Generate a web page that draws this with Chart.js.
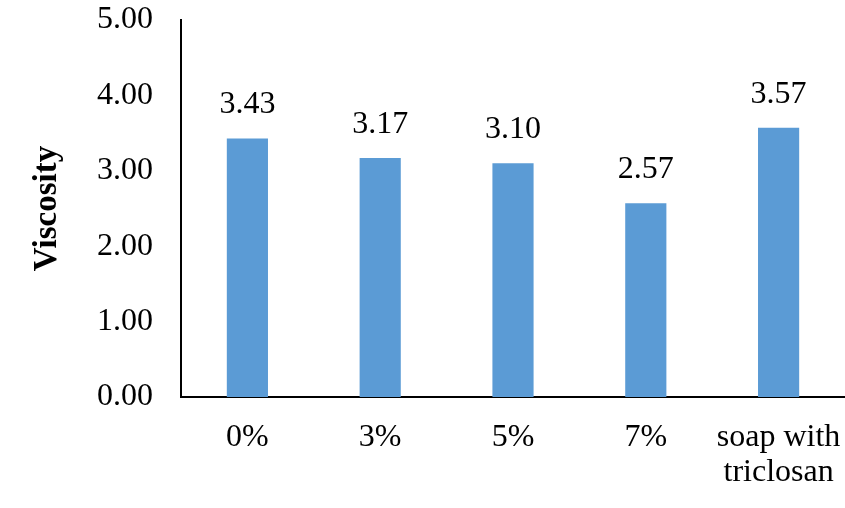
<!DOCTYPE html>
<html>
<head>
<meta charset="utf-8">
<script src="https://cdn.jsdelivr.net/npm/chart.js@4"></script>
<style>
  html, body { margin: 0; padding: 0; background: #fff; }
  #wrap { width: 845px; height: 508px; }
</style>
</head>
<body>
<div id="wrap"><canvas id="chart"></canvas></div>
<script>
const categories = ["0%", "3%", "5%", "7%", ["soap with", "triclosan"]];
const viscosity = [3.43, 3.17, 3.1, 2.57, 3.57];
const yTicks = [0, 1, 2, 3, 4, 5];

const FONT = "'Liberation Serif', 'Times New Roman', serif";

// etiquetas de valor encima de cada barra
const valueLabels = {
  id: "valueLabels",
  afterDatasetsDraw(chart) {
    const ctx = chart.ctx;
    const meta = chart.getDatasetMeta(0);
    ctx.save();
    ctx.font = "32px " + FONT;
    ctx.fillStyle = "#000";
    ctx.textAlign = "center";
    ctx.textBaseline = "alphabetic";
    meta.data.forEach((bar, i) => {
      ctx.fillText(viscosity[i].toFixed(2), bar.x, bar.y - 25);
    });
    ctx.restore();
  },
};

new Chart(document.getElementById("chart").getContext("2d"), {
  type: "bar",
  data: {
    labels: categories,
    datasets: [
      {
        label: "Viscosity",
        data: viscosity,
        backgroundColor: "#5B9BD5",
        borderWidth: 0,
        barPercentage: 1,
        categoryPercentage: 0.31,
      },
    ],
  },
  options: {
    responsive: true,
    maintainAspectRatio: false,
    animation: false,
    layout: { padding: { top: 20, right: 0, left: 0, bottom: 0 } },
    plugins: {
      legend: { display: false },
      tooltip: { enabled: false },
    },
    scales: {
      x: {
        grid: { display: false, drawTicks: false },
        border: { display: true, color: "#000", width: 2 },
        ticks: {
          color: "#000",
          padding: 23,
          maxRotation: 0,
          autoSkip: false,
          font: { family: FONT, size: 32, lineHeight: 1.1 },
        },
        afterFit: (scale) => {
          scale.height = 111;
          scale.paddingLeft = 0;
          scale.paddingRight = 0;
        },
      },
      y: {
        min: 0,
        max: 5,
        afterBuildTicks: (scale) => {
          scale.ticks = yTicks.map((v) => ({ value: v }));
        },
        grid: { display: false, drawTicks: false },
        border: { display: true, color: "#000", width: 2 },
        ticks: {
          color: "#000",
          padding: 28,
          font: { family: FONT, size: 32 },
          callback: (v) => Number(v).toFixed(2),
        },
        title: {
          display: true,
          text: "Viscosity",
          color: "#000",
          padding: { top: 28, bottom: 0 },
          font: { family: FONT, size: 33, weight: "bold" },
        },
        afterFit: (scale) => {
          scale.width = 181;
          scale.paddingTop = 0;
          scale.paddingBottom = 0;
        },
      },
    },
  },
  plugins: [valueLabels],
});
</script>
</body>
</html>
